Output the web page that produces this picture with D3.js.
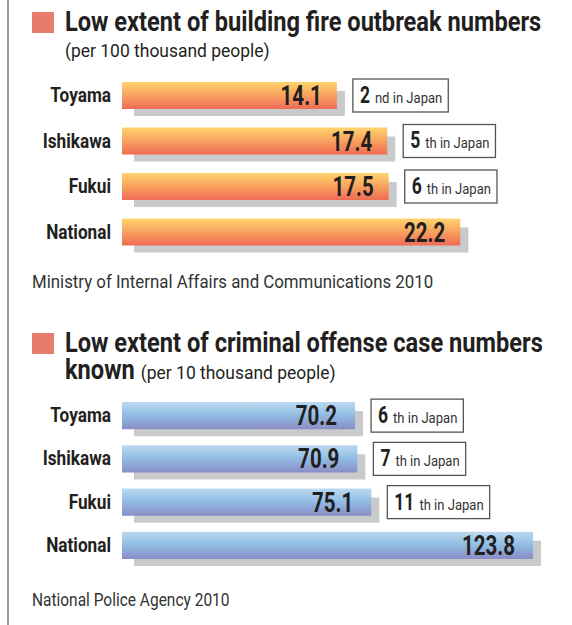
<!DOCTYPE html>
<html>
<head>
<meta charset="utf-8">
<script src="https://cdn.jsdelivr.net/npm/d3@7"></script>
<style>
  html, body { margin: 0; padding: 0; background: #fff; }
  svg text { font-family: Roboto, "Liberation Sans", sans-serif; fill: #231f20; }
</style>
</head>
<body>
<div id="chart"></div>
<script>
// data
const prefectures = ['Toyama', 'Ishikawa', 'Fukui', 'National'];

const fireValues = [14.1, 17.4, 17.5, 22.2];
const fireRanks = [2, 5, 6, null];
const fireSuffixes = ['nd', 'th', 'th', null];

const crimeValues = [70.2, 70.9, 75.1, 123.8];
const crimeRanks = [6, 7, 11, null];
const crimeSuffixes = ['th', 'th', 'th', null];

const width = 572;
const height = 625;

// squeeze factors, the original uses a condensed face
const TITLE_K = 0.875;
const LABEL_K = 0.86;
const VALUE_K = 0.76;
const SUB_K = 0.97;

// squeeze text horizontally
const condense = (sel, k) => {
  sel.each(function () {
    const w = this.getComputedTextLength();
    d3.select(this)
      .attr('textLength', w * k)
      .attr('lengthAdjust', 'spacingAndGlyphs');
  });
  return sel;
};

const svg = d3.select('#chart').append('svg')
  .attr('width', width)
  .attr('height', height);

const defs = svg.append('defs');

const addGradient = (id, stops) => {
  const g = defs.append('linearGradient')
    .attr('id', id)
    .attr('x1', 0).attr('y1', 0)
    .attr('x2', 0).attr('y2', 1);
  stops.forEach(([offset, color]) => {
    g.append('stop').attr('offset', offset).attr('stop-color', color);
  });
};

addGradient('grad-fire', [[0, '#fed56d'], [0.45, '#f9a660'], [1, '#f06b55']]);
addGradient('grad-crime', [[0, '#bcd9f1'], [0.45, '#92bfe5'], [1, '#8a8dc7']]);

// left rule
svg.append('line')
  .attr('x1', 8).attr('x2', 8)
  .attr('y1', 0).attr('y2', height)
  .style('stroke', '#9c9c9c')
  .style('stroke-width', 2);

const appendHeading = (y) => {
  svg.append('rect')
    .attr('x', 32).attr('y', y - 20)
    .attr('width', 22).attr('height', 21)
    .style('fill', '#e97b6e');
};

const drawPanel = (cfg) => {
  const x = d3.scaleLinear().domain(cfg.domain).range([122, cfg.xEnd]);
  const y = d3.scaleBand()
    .domain(prefectures)
    .range(cfg.yRange)
    .paddingInner(cfg.padInner);

  const rows = svg.selectAll(`.row-${cfg.id}`)
    .data(cfg.values.map((v, i) => ({
      name: prefectures[i],
      value: v,
      rank: cfg.ranks[i],
      suffix: cfg.suffixes[i],
    })))
    .enter().append('g')
    .attr('class', `row-${cfg.id}`);

  // shadow
  rows.append('rect')
    .attr('x', x(0) + 12)
    .attr('y', (d) => y(d.name) + 9)
    .attr('width', (d) => x(d.value) - x(0) - 4)
    .attr('height', y.bandwidth() - 2)
    .style('fill', '#c9cacc');

  rows.append('rect')
    .attr('x', x(0))
    .attr('y', (d) => y(d.name))
    .attr('width', (d) => x(d.value) - x(0))
    .attr('height', y.bandwidth())
    .style('fill', `url(#grad-${cfg.id})`);

  condense(rows.append('text')
    .attr('x', 111)
    .attr('y', (d) => y(d.name) + 20)
    .style('text-anchor', 'end')
    .style('font-size', '20px')
    .style('font-weight', 700)
    .text((d) => d.name), LABEL_K);

  condense(rows.append('text')
    .attr('x', (d) => x(d.value) - cfg.valuePad)
    .attr('y', (d) => y(d.name) + 23)
    .style('text-anchor', 'end')
    .style('font-size', '27px')
    .style('font-weight', 700)
    .text((d) => d.value.toFixed(1)), VALUE_K);

  // rank boxes
  const ranked = rows.filter((d) => d.rank !== null);
  const box = ranked.append('g')
    .attr('transform', (d) => `translate(${x(d.value) + 16},${y(d.name) + y.bandwidth() / 2 - 16.5})`);

  box.append('rect')
    .attr('height', 33)
    .style('fill', '#fff')
    .style('stroke', '#555')
    .style('stroke-width', 1.3);

  condense(box.append('text')
    .attr('x', 7)
    .attr('y', 24)
    .style('font-size', '23px')
    .style('font-weight', 700)
    .text((d) => d.rank), VALUE_K);

  box.each(function () {
    const g = d3.select(this);
    const numW = +g.select('text').attr('textLength');
    const suf = condense(g.append('text')
      .attr('x', 7 + numW + 5)
      .attr('y', 24)
      .style('font-size', '15px')
      .style('fill', '#333')
      .text((d) => `${d.suffix} in Japan`), 0.87);
    const sufW = +suf.attr('textLength');
    g.select('rect').attr('width', 7 + numW + 5 + sufW + 6);
  });

  condense(svg.append('text')
    .attr('x', 32)
    .attr('y', cfg.sourceY)
    .style('font-size', '18px')
    .style('fill', '#333')
    .text(cfg.source), cfg.sourceK);
};

// panel 1
appendHeading(32);
condense(svg.append('text')
  .attr('x', 65).attr('y', 31)
  .style('font-size', '27px').style('font-weight', 700)
  .text('Low extent of building fire outbreak numbers'), TITLE_K);
condense(svg.append('text')
  .attr('x', 65).attr('y', 57)
  .style('font-size', '18px')
  .text('(per 100 thousand people)'), SUB_K);

drawPanel({
  id: 'fire',
  values: fireValues,
  ranks: fireRanks,
  suffixes: fireSuffixes,
  domain: [0, 25],
  xEnd: 122 + 25 * 15.24,
  yRange: [82, 245.5],
  padInner: 0.4066,
  valuePad: 15,
  source: 'Ministry of Internal Affairs and Communications 2010',
  sourceK: 0.935,
  sourceY: 288,
});

// panel 2
appendHeading(353);
condense(svg.append('text')
  .attr('x', 65).attr('y', 352)
  .style('font-size', '27px').style('font-weight', 700)
  .text('Low extent of criminal offense case numbers'), TITLE_K);
const known = condense(svg.append('text')
  .attr('x', 65).attr('y', 379)
  .style('font-size', '27px').style('font-weight', 700)
  .text('known'), TITLE_K);
condense(svg.append('text')
  .attr('x', 65 + +known.attr('textLength') + 6).attr('y', 379)
  .style('font-size', '18px')
  .text('(per 10 thousand people)'), SUB_K);

drawPanel({
  id: 'crime',
  values: crimeValues,
  ranks: crimeRanks,
  suffixes: crimeSuffixes,
  domain: [0, 130],
  xEnd: 122 + 130 * 3.32,
  yRange: [402, 559],
  padInner: 0.37,
  valuePad: 18,
  source: 'National Police Agency 2010',
  sourceK: 0.86,
  sourceY: 606,
});
</script>
</body>
</html>
